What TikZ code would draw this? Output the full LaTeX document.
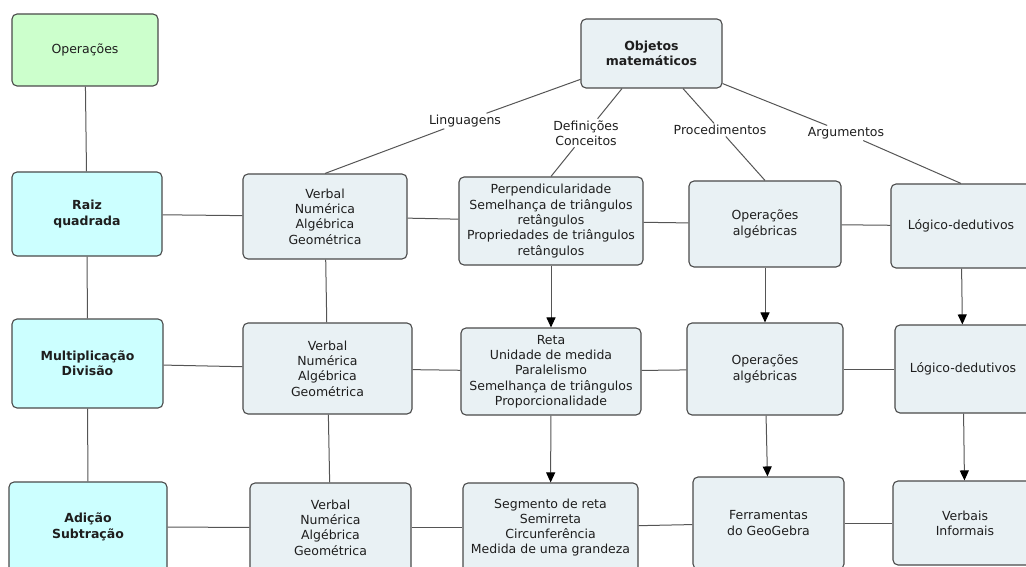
\documentclass[tikz,border=0pt]{standalone}
\usepackage{fontspec}
\setmainfont{DejaVu Sans}
\usetikzlibrary{arrows.meta,calc}
\definecolor{boxfill}{HTML}{E9F1F4}
\definecolor{cyanfill}{HTML}{CCFFFF}
\definecolor{greenfill}{HTML}{CCFFCC}
\definecolor{edgecol}{HTML}{4A4A4A}
\definecolor{linecol}{HTML}{555555}
\definecolor{txtcol}{HTML}{1E1E1E}
\newcommand\mysz{\fontsize{12.5}{15.3}\selectfont}
\begin{document}
\begin{tikzpicture}[x=1pt, y=-1pt, font=\mysz,
  box/.style={draw=edgecol, line width=1.1pt, rounded corners=5pt, fill=boxfill,
    align=center, inner sep=0pt, text=txtcol},
  sz/.style n args={2}{minimum width=#1pt, minimum height=#2pt},
  boldtxt/.style={font=\mysz\bfseries},
  lbl/.style={fill=white, inner sep=1.5pt, align=center, text=txtcol},
  conn/.style={draw=linecol, line width=1pt},
  arr/.style={conn, -{Triangle[length=10pt,width=9pt,color=black]}}]
\useasboundingbox (0,0) rectangle (1026,567);
\clip (0,0) rectangle (1026,567);

% left column
\node[box, fill=greenfill, sz={146}{72}] (ops) at (85,50) {Operações};
\node[box, fill=cyanfill, sz={150}{84}, boldtxt] (raiz) at (87,214) {Raiz\\quadrada};
\node[box, fill=cyanfill, sz={151}{89}, boldtxt] (mult) at (87.5,363.5) {Multiplicação\\Divisão};
\node[box, fill=cyanfill, sz={158}{90}, boldtxt] (adic) at (88,527) {Adição\\Subtração};

% verbal column
\node[box, sz={164}{85}] (verb1) at (325,216.5) {Verbal\\Numérica\\Algébrica\\Geométrica};
\node[box, sz={169}{91}] (verb2) at (327.5,368.5) {Verbal\\Numérica\\Algébrica\\Geométrica};
\node[box, sz={161}{89}] (verb3) at (330.5,527.5) {Verbal\\Numérica\\Algébrica\\Geométrica};

% top
\node[box, sz={141}{69}, boldtxt] (obj) at (651.5,53.5) {Objetos\\matemáticos};

% row 1
\node[box, sz={184}{88}] (perp) at (551,221) {Perpendicularidade\\Semelhança de triângulos\\retângulos\\Propriedades de triângulos\\retângulos};
\node[box, sz={152}{86}] (opalg1) at (765,224) {Operações\\algébricas};
\node[box, sz={140}{84}] (log1) at (961,226) {Lógico-dedutivos};

% row 2
\node[box, sz={180}{87}] (reta) at (551,371.5) {Reta\\Unidade de medida\\Paralelismo\\Semelhança de triângulos\\Proporcionalidade};
\node[box, sz={156}{92}] (opalg2) at (765,369) {Operações\\algébricas};
\node[box, sz={136}{88}] (log2) at (963,369) {Lógico-dedutivos};

% row 3
\node[box, sz={175}{89}] (seg) at (550.5,527.5) {Segmento de reta\\Semirreta\\Circunferência\\Medida de uma grandeza};
\node[box, sz={151}{92}] (ferr) at (768.5,523) {Ferramentas\\do GeoGebra};
\node[box, sz={144}{84}] (verbais) at (965,523) {Verbais\\Informais};

% link labels
\node[lbl] (lang) at (465,121) {Linguagens};
\node[lbl] (defc) at (586,133) {Definições\\Conceitos};
\node[lbl] (proc) at (720,130) {Procedimentos};
\node[lbl] (argm) at (846,133) {Argumentos};

% connectors from the top node
\draw[conn] (obj.200) -- (lang) -- (verb1.north);
\draw[conn] ($(obj.south)+(-29.5,0)$) -- (defc) -- (perp.north);
\draw[conn] ($(obj.south)+(31.5,0)$) -- (proc) -- (opalg1.north);
\draw[conn] ($(obj.south east)+(0,-5)$) -- (argm) -- (log1.north);

% plain links
\draw[conn] (ops) -- (raiz);
\draw[conn] (raiz) -- (mult);
\draw[conn] (mult) -- (adic);
\draw[conn] (raiz) -- (verb1);
\draw[conn] (verb1) -- (perp);
\draw[conn] (perp) -- (opalg1);
\draw[conn] (opalg1) -- (log1);
\draw[conn] (verb1) -- (verb2);
\draw[conn] (verb2) -- (verb3);
\draw[conn] (mult) -- (verb2);
\draw[conn] (verb2) -- (reta);
\draw[conn] (reta) -- (opalg2);
\draw[conn] (opalg2) -- (log2);
\draw[conn] (adic) -- (verb3);
\draw[conn] (verb3) -- (seg);
\draw[conn] (seg) -- (ferr);
\draw[conn] (ferr) -- (verbais);

% arrows
\draw[arr] (perp) -- (reta);
\draw[arr] (reta) -- (seg);
\draw[arr] (opalg1) -- (opalg2);
\draw[arr] (opalg2) -- (ferr);
\draw[arr] (log1) -- (log2);
\draw[arr] (log2) -- (verbais);
\end{tikzpicture}
\end{document}
